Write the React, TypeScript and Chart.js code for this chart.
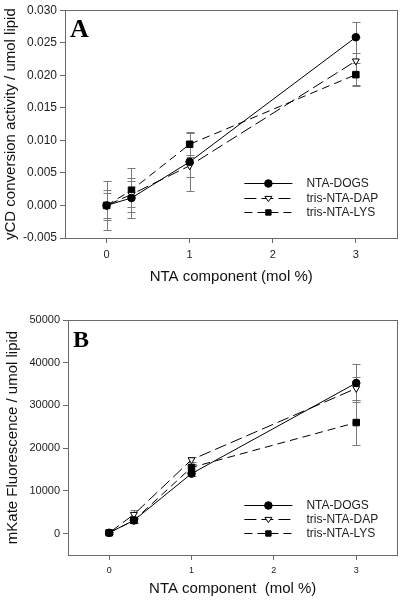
import React, { useEffect, useRef } from "react";
import { Chart, registerables } from "chart.js";

Chart.register(...registerables);

// ---------- data ----------
const xValues = [0, 0.3, 1, 3];
const xTickValues = [0, 1, 2, 3];
const seriesNames = ["NTA-DOGS", "tris-NTA-DAP", "tris-NTA-LYS"];

// Panel A: yCD conversion activity / umol lipid
const aDogs = [0, 0.00115, 0.0067, 0.02585];
const aDogsErr = [0.0038, 0.0031, 0.0045, 0.0024];
const aDap = [0, 0.0017, 0.0061, 0.0222];
const aDapErr = [0.0019, 0.002, 0.0017, 0.0037];
const aLys = [0, 0.00235, 0.0094, 0.0201];
const aLysErr = [0.0023, 0.0034, 0.0019, 0.0018];
const aYTicks = [-0.005, 0, 0.005, 0.01, 0.015, 0.02, 0.025, 0.03];

// Panel B: mKate Fluorescence / umol lipid
const bDogs = [200, 3100, 14050, 35250];
const bDogsErr = [300, 600, 500, 4500];
const bDap = [200, 4500, 17300, 34000];
const bDapErr = [200, 1100, 600, 2700];
const bLys = [200, 3100, 15500, 26000];
const bLysErr = [200, 500, 800, 5200];
const bYTicks = [0, 10000, 20000, 30000, 40000, 50000];

const FONT = "'Liberation Sans', Arial, Helvetica, sans-serif";

// ---------- plugins ----------
const errorBarPlugin = {
  id: "errorBars",
  beforeDatasetsDraw(chart: any) {
    const { ctx } = chart;
    const xs = chart.scales.x;
    const ys = chart.scales.y;
    ctx.save();
    ctx.strokeStyle = "#7a7a7a";
    ctx.lineWidth = 1;
    ctx.setLineDash([]);
    chart.data.datasets.forEach((ds: any) => {
      ds.data.forEach((p: any, j: number) => {
        const e = ds.errors[j];
        const x = Math.round(xs.getPixelForValue(p.x)) + 0.5;
        const yt = Math.round(ys.getPixelForValue(p.y + e)) + 0.5;
        const yb = Math.round(ys.getPixelForValue(p.y - e)) + 0.5;
        ctx.beginPath();
        ctx.moveTo(x, yt);
        ctx.lineTo(x, yb);
        ctx.moveTo(x - 4, yt);
        ctx.lineTo(x + 4, yt);
        ctx.moveTo(x - 4, yb);
        ctx.lineTo(x + 4, yb);
        ctx.stroke();
      });
    });
    ctx.restore();
  },
};

function drawMarker(ctx: any, style: string, x: number, y: number, r: number, fill: string) {
  ctx.save();
  ctx.setLineDash([]);
  ctx.fillStyle = fill;
  ctx.strokeStyle = "#000";
  ctx.lineWidth = 1;
  ctx.beginPath();
  if (style === "circle") {
    ctx.arc(x, y, r, 0, Math.PI * 2);
  } else if (style === "rect") {
    const s = r * Math.SQRT1_2;
    ctx.rect(x - s, y - s, 2 * s, 2 * s);
  } else {
    ctx.moveTo(x - r, y - r * 0.6);
    ctx.lineTo(x + r, y - r * 0.6);
    ctx.lineTo(x, y + r * 0.9);
    ctx.closePath();
  }
  ctx.fill();
  ctx.stroke();
  ctx.restore();
}

const framePlugin = {
  id: "frameAndExtras",
  afterDatasetsDraw(chart: any, _args: any, opts: any) {
    const { ctx, chartArea: a } = chart;
    ctx.save();
    ctx.strokeStyle = "#6a6a6a";
    ctx.lineWidth = 1;
    ctx.setLineDash([]);
    ctx.strokeRect(Math.round(a.left) + 0.5, Math.round(a.top) + 0.5, Math.round(a.right - a.left), Math.round(a.bottom - a.top));
    ctx.fillStyle = "#000";
    ctx.font = `bold ${opts.letterSize}px 'Liberation Serif', 'Times New Roman', serif`;
    ctx.textBaseline = "alphabetic";
    ctx.textAlign = "left";
    ctx.fillText(opts.letter, a.left + opts.letterDx, a.top + opts.letterDy);
    chart.data.datasets.forEach((ds: any, i: number) => {
      const y = a.bottom - opts.legendBottom + i * opts.legendRow;
      const x0 = a.right - 153;
      const x1 = a.right - 105;
      ctx.strokeStyle = "#000";
      ctx.lineWidth = 1;
      ctx.setLineDash(ds.borderDash || []);
      ctx.beginPath();
      ctx.moveTo(x0, Math.round(y) + 0.5);
      ctx.lineTo(x1, Math.round(y) + 0.5);
      ctx.stroke();
      drawMarker(ctx, ds.legendMarker, (x0 + x1) / 2, Math.round(y) + 0.5, ds.legendMarker === "triangle" ? 3.5 : 3.8, ds.pointBackgroundColor);
      ctx.fillStyle = "#222";
      ctx.font = `12px ${FONT}`;
      ctx.textBaseline = "middle";
      ctx.fillText(ds.label, a.right - 91, y + 1);
    });
    ctx.restore();
  },
};

// ---------- config ----------
function makeDatasets(vals: number[][], errs: number[][]) {
  const styles = [
    { dash: [], pointStyle: "circle", radius: 3.8, fill: "#000", marker: "circle", rot: 0 },
    { dash: [12, 5], pointStyle: "triangle", radius: 4, fill: "#fff", marker: "triangle", rot: 180 },
    { dash: [8, 5], pointStyle: "rect", radius: 4.6, fill: "#000", marker: "rect", rot: 0 },
  ];
  return vals.map((v, i) => ({
    label: seriesNames[i],
    data: xValues.map((x, j) => ({ x, y: v[j] })),
    errors: errs[i],
    borderColor: "#000",
    borderWidth: 1,
    borderDash: styles[i].dash,
    pointStyle: styles[i].pointStyle,
    pointRadius: styles[i].radius,
    pointRotation: styles[i].rot,
    pointBackgroundColor: styles[i].fill,
    pointBorderColor: "#000",
    pointBorderWidth: 1,
    legendMarker: styles[i].marker,
    fill: false,
    tension: 0,
  }));
}

interface PanelOpts {
  datasets: any[];
  yMin: number;
  yMax: number;
  yTicks: number[];
  yFormat: (v: number) => string;
  yTitle: string;
  xTitle: string;
  yWidth: number;
  xHeight: number;
  padTop: number;
  yTickSize: number;
  xTickSize: number;
  yTitlePad: number;
  xTitlePad: number;
  letter: string;
  letterSize: number;
  letterDx: number;
  letterDy: number;
  legendBottom: number;
  legendRow: number;
}

function makeConfig(o: PanelOpts): any {
  return {
    type: "line",
    data: { datasets: o.datasets },
    plugins: [errorBarPlugin, framePlugin],
    options: {
      animation: false,
      responsive: false,
      devicePixelRatio: 1,
      layout: { padding: { top: o.padTop, right: 5, left: 0, bottom: 0 } },
      plugins: {
        legend: { display: false },
        tooltip: { enabled: false },
        frameAndExtras: {
          letter: o.letter,
          letterSize: o.letterSize,
          letterDx: o.letterDx,
          letterDy: o.letterDy,
          legendBottom: o.legendBottom,
          legendRow: o.legendRow,
        },
      },
      scales: {
        x: {
          type: "linear",
          min: -0.5,
          max: 3.5,
          afterBuildTicks: (s: any) => {
            s.ticks = xTickValues.map((v) => ({ value: v }));
          },
          afterFit: (s: any) => {
            s.height = o.xHeight;
          },
          grid: { drawOnChartArea: false, drawTicks: true, tickLength: 5, color: "#6a6a6a" },
          border: { display: true, color: "#6a6a6a" },
          ticks: {
            color: "#222",
            font: { family: FONT, size: o.xTickSize },
            padding: 5,
            maxRotation: 0,
            callback: (v: any) => String(v),
          },
          title: {
            display: true,
            text: o.xTitle,
            color: "#111",
            font: { family: FONT, size: 15 },
            padding: { top: 0, bottom: o.xTitlePad },
          },
        },
        y: {
          type: "linear",
          min: o.yMin,
          max: o.yMax,
          afterBuildTicks: (s: any) => {
            s.ticks = o.yTicks.map((v) => ({ value: v }));
          },
          afterFit: (s: any) => {
            s.width = o.yWidth;
          },
          grid: { drawOnChartArea: false, drawTicks: true, tickLength: 5, color: "#6a6a6a" },
          border: { display: true, color: "#6a6a6a" },
          ticks: {
            color: "#222",
            font: { family: FONT, size: o.yTickSize },
            padding: 3,
            callback: (v: any) => o.yFormat(Number(v)),
          },
          title: {
            display: true,
            text: o.yTitle,
            color: "#111",
            font: { family: FONT, size: 15 },
            padding: { top: o.yTitlePad, bottom: 0 },
          },
        },
      },
    },
  };
}

function Panel({ opts }: { opts: PanelOpts }) {
  const ref = useRef<HTMLCanvasElement | null>(null);
  useEffect(() => {
    if (!ref.current) return;
    const chart = new Chart(ref.current, makeConfig(opts));
    return () => chart.destroy();
  }, []);
  return <canvas ref={ref} width={403} height={300} style={{ display: "block", width: 403, height: 300 }} />;
}

const panelA: PanelOpts = {
  datasets: makeDatasets([aDogs, aDap, aLys], [aDogsErr, aDapErr, aLysErr]),
  yMin: -0.005,
  yMax: 0.03,
  yTicks: aYTicks,
  yFormat: (v) => v.toFixed(3),
  yTitle: "yCD conversion activity / umol lipid",
  xTitle: "NTA component (mol %)",
  yWidth: 65,
  xHeight: 62,
  padTop: 5,
  yTickSize: 12,
  xTickSize: 11,
  yTitlePad: 2,
  xTitlePad: 14,
  letter: "A",
  letterSize: 26,
  letterDx: 5,
  letterDy: 27,
  legendBottom: 55,
  legendRow: 14.5,
};

const panelB: PanelOpts = {
  datasets: makeDatasets([bDogs, bDap, bLys], [bDogsErr, bDapErr, bLysErr]),
  yMin: -5000,
  yMax: 50000,
  yTicks: bYTicks,
  yFormat: (v) => String(Math.round(v)),
  yTitle: "mKate Fluorescence / umol lipid",
  xTitle: "NTA component  (mol %)",
  yWidth: 68,
  xHeight: 45,
  padTop: 20,
  yTickSize: 11,
  xTickSize: 9,
  yTitlePad: 4,
  xTitlePad: 2,
  letter: "B",
  letterSize: 24,
  letterDx: 5,
  letterDy: 27,
  legendBottom: 50,
  legendRow: 14,
};

export default function App() {
  return (
    <div style={{ position: "absolute", left: 0, top: 0, width: 403, height: 600, background: "#fff" }}>
      <Panel opts={panelA} />
      <Panel opts={panelB} />
    </div>
  );
}
